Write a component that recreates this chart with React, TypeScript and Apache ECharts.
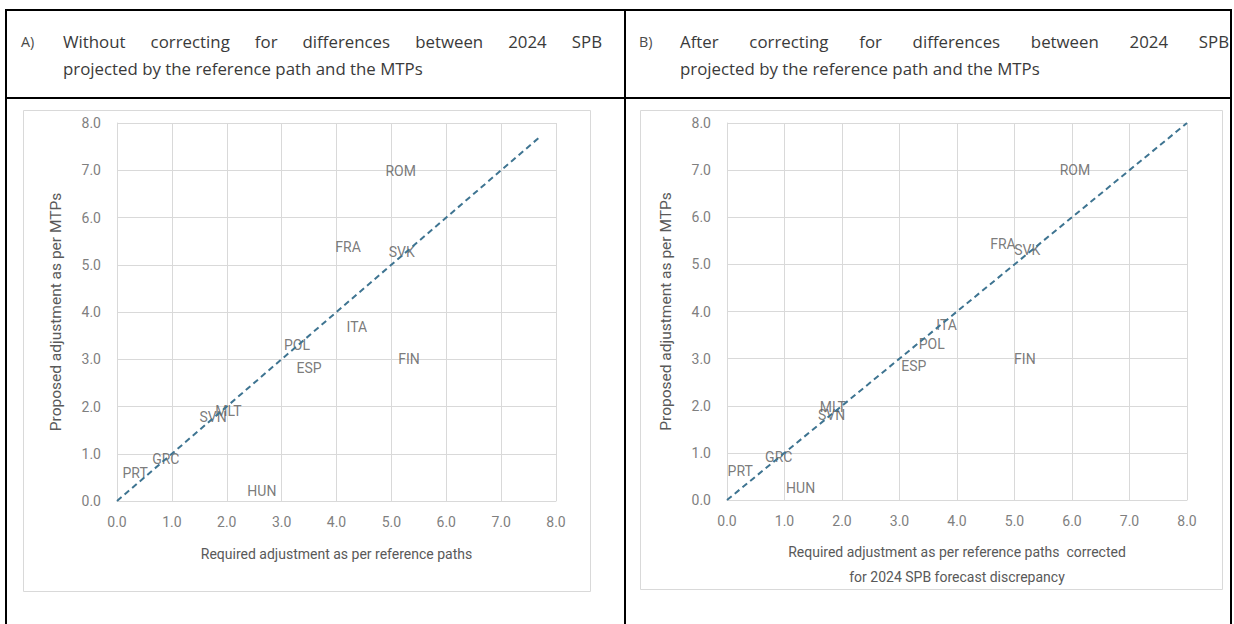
import React, { useEffect, useRef } from "react";
import * as echarts from "echarts";

// ---- data ----
const countries = ["ROM", "FRA", "SVK", "ITA", "POL", "FIN", "ESP", "MLT", "SVN", "GRC", "PRT", "HUN"];
// Panel A: without correction
const requiredA = [5.17, 4.21, 5.19, 4.37, 3.28, 5.32, 3.5, 2.03, 1.75, 0.89, 0.33, 2.64];
const proposedA = [6.98, 5.38, 5.28, 3.69, 3.3, 3.0, 2.81, 1.91, 1.77, 0.88, 0.59, 0.22];
// Panel B: after correction
const requiredB = [6.05, 4.8, 5.22, 3.82, 3.56, 5.18, 3.25, 1.84, 1.82, 0.9, 0.23, 1.28];
const proposedB = [7.0, 5.43, 5.3, 3.72, 3.3, 3.0, 2.84, 1.97, 1.81, 0.92, 0.62, 0.25];
// 45-degree reference lines
const diagonalA = [[0, 0], [7.7, 7.7]];
const diagonalB = [[0, 0], [8, 8]];
const axisMin = 0;
const axisMax = 8;
const axisStep = 1;

const headerA1 = "Without correcting for differences between 2024 SPB";
const headerA2 = "projected by the reference path and the MTPs";
const headerB1 = "After correcting for differences between 2024 SPB";
const headerB2 = "projected by the reference path and the MTPs";
const xTitleA = "Required adjustment as per reference paths";
const xTitleB = "Required adjustment as per reference paths  corrected\nfor 2024 SPB forecast discrepancy";
const yTitle = "Proposed adjustment as per MTPs";

const HEAD_FONT = '"Open Sans", "Noto Sans", sans-serif';
const CHART_FONT = 'Roboto, "Noto Sans", sans-serif';

function measure(text: string, size: number): number {
  const c = document.createElement("canvas").getContext("2d");
  if (!c) return text.length * size * 0.5;
  c.font = `${size}px ${HEAD_FONT}`;
  return c.measureText(text).width;
}

export default function App() {
  const ref = useRef<HTMLDivElement>(null);

  useEffect(() => {
    document.body.style.margin = "0";
    if (!ref.current) return;
    const chart = echarts.init(ref.current, undefined, { renderer: "svg" });

    // header font sizing: line 2 spans ~360px
    const w2 = measure(headerA2, 15);
    let hs = (15 * 360) / w2;
    hs = Math.max(13, Math.min(18, hs));

    const headColor = "#3a3a3a";
    const graphics: any[] = [];

    // table borders
    const tl = (x1: number, y1: number, x2: number, y2: number) =>
      graphics.push({
        type: "line",
        shape: { x1, y1, x2, y2 },
        style: { stroke: "#000", lineWidth: 2 },
        z: 100,
      });
    tl(5, 10, 1232, 10);
    tl(6, 10, 6, 624);
    tl(1231, 10, 1231, 624);
    tl(625, 10, 625, 624);
    tl(5, 98, 1232, 98);

    // cards
    graphics.push({
      type: "rect",
      shape: { x: 23.5, y: 110.5, width: 567, height: 481 },
      style: { fill: "none", stroke: "#d9d9d9", lineWidth: 1 },
      z: -1,
    });
    graphics.push({
      type: "rect",
      shape: { x: 640.5, y: 110.5, width: 582, height: 479 },
      style: { fill: "none", stroke: "#d9d9d9", lineWidth: 1 },
      z: -1,
    });

    const txt = (text: string, x: number, y: number, size: number, color = headColor) =>
      graphics.push({
        type: "text",
        x,
        y,
        style: {
          text,
          fontSize: size,
          fontFamily: HEAD_FONT,
          fill: color,
          align: "left",
          verticalAlign: "middle",
        },
        z: 100,
      });

    const justify = (line: string, x0: number, x1: number, y: number) => {
      const words = line.split(" ");
      const widths = words.map((w) => measure(w, hs));
      const total = widths.reduce((a, b) => a + b, 0);
      const sp = measure(" ", hs);
      let gap = (x1 - x0 - total) / (words.length - 1);
      if (gap < sp) gap = sp;
      let x = x0;
      words.forEach((w, i) => {
        txt(w, x, y, hs);
        x += widths[i] + gap;
      });
    };

    txt("A)", 21, 41, hs * 0.85, "#4a4a4a");
    justify(headerA1, 63, 602, 41);
    txt(headerA2, 63, 68, hs);
    txt("B)", 639, 41, hs * 0.85, "#4a4a4a");
    justify(headerB1, 680, 1229, 41);
    txt(headerB2, 680, 68, hs);

    const labelColor = "#595959";
    const makeAxis = (gridIndex: number, name: string, isX: boolean, nameGap: number) => ({
      type: "value",
      gridIndex,
      min: axisMin,
      max: axisMax,
      interval: axisStep,
      name,
      nameLocation: "middle",
      nameGap,
      nameRotate: isX ? 0 : 90,
      nameTextStyle: {
        color: labelColor,
        fontSize: isX ? 14 : 15.5,
        fontFamily: CHART_FONT,
        lineHeight: 25,
      },
      axisLine: { show: true, lineStyle: { color: "#d9d9d9", width: 1 } },
      axisTick: { show: false },
      axisLabel: {
        color: "#7f7f7f",
        fontSize: 14,
        fontFamily: CHART_FONT,
        margin: isX ? 14 : 16,
        formatter: (v: number) => v.toFixed(1),
      },
      splitLine: { show: true, lineStyle: { color: "#d9d9d9", width: 1 } },
    });

    const pts = (xs: number[], ys: number[]) => xs.map((x, i) => [x, ys[i], countries[i]]);

    const scatter = (idx: number, xs: number[], ys: number[]) => ({
      type: "scatter",
      xAxisIndex: idx,
      yAxisIndex: idx,
      data: pts(xs, ys),
      symbolSize: 1,
      itemStyle: { color: "rgba(0,0,0,0)" },
      label: {
        show: true,
        position: "inside",
        formatter: (p: any) => p.data[2],
        color: labelColor,
        fontSize: 14,
        fontFamily: CHART_FONT,
      },
      z: 3,
    });

    const diag = (idx: number, data: number[][]) => ({
      type: "line",
      xAxisIndex: idx,
      yAxisIndex: idx,
      data,
      symbol: "none",
      lineStyle: { color: "#3e7491", width: 2, type: [6, 4] },
      z: 4,
    });

    chart.setOption({
      animation: false,
      backgroundColor: "#ffffff",
      grid: [
        { left: 117, top: 123, width: 439, height: 378 },
        { left: 727, top: 123, width: 460, height: 377 },
      ],
      xAxis: [makeAxis(0, xTitleA, true, 40), makeAxis(1, xTitleB, true, 39)],
      yAxis: [makeAxis(0, yTitle, false, 49), makeAxis(1, yTitle, false, 49)],
      series: [diag(0, diagonalA), scatter(0, requiredA, proposedA), diag(1, diagonalB), scatter(1, requiredB, proposedB)],
      graphic: graphics,
    });

    return () => chart.dispose();
  }, []);

  return <div ref={ref} style={{ width: 1234, height: 624 }} />;
}
